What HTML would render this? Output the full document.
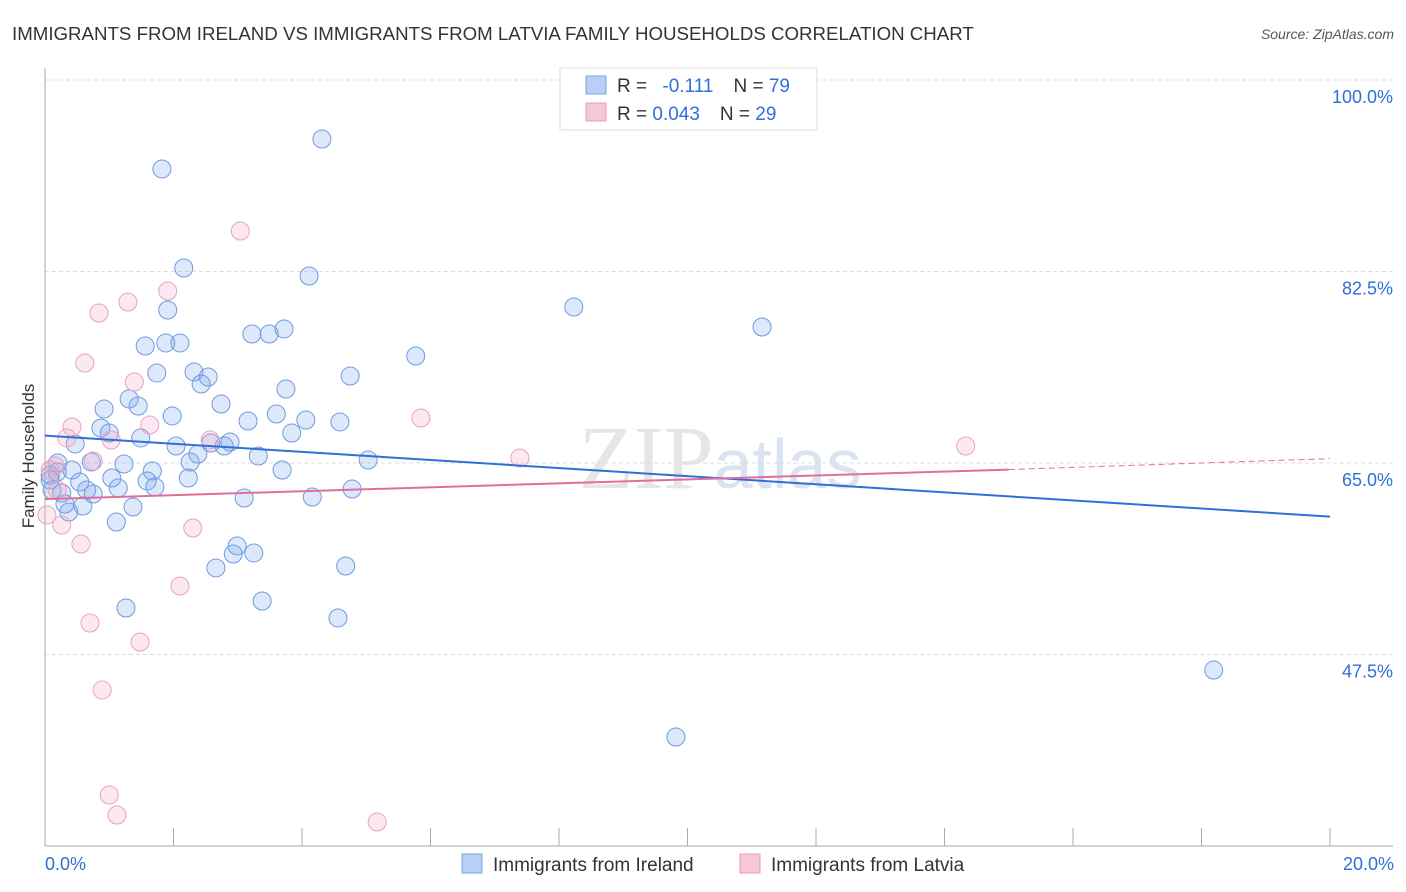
<!DOCTYPE html>
<html><head><meta charset="utf-8"><style>
body{margin:0;background:#fff;font-family:"Liberation Sans",sans-serif;}
svg{display:block}
</style></head><body>
<svg id="chart" width="1406" height="892">
<text x="12" y="40" font-size="18.7" fill="#333">IMMIGRANTS FROM IRELAND VS IMMIGRANTS FROM LATVIA FAMILY HOUSEHOLDS CORRELATION CHART</text>
<text x="1394" y="39" font-size="14" fill="#555" font-style="italic" text-anchor="end">Source: ZipAtlas.com</text>
<text x="720" y="488" font-size="90" fill="#e6e6e6" text-anchor="middle" font-family="Liberation Serif,serif">ZIP<tspan fill="#d9e3f2" font-family="Liberation Sans,sans-serif" font-size="70">atlas</tspan></text>
<g id="grid"></g>
<line x1="45" y1="68" x2="45" y2="846" stroke="#aaa"/>
<line x1="45" y1="846" x2="1393" y2="846" stroke="#aaa"/>
<text transform="translate(34,456) rotate(-90)" font-size="17" fill="#333" text-anchor="middle">Family Households</text>
<g id="marks"></g>
<g id="lines"></g>
<g>
<rect x="560" y="68" width="257" height="62" fill="#fff" stroke="#ddd"/>
<rect x="586" y="76" width="20" height="18" fill="#b8d0f5" stroke="#7aa3e0"/>
<rect x="586" y="103" width="20" height="18" fill="#f9c8d6" stroke="#ea9ab2"/>
<text x="617" y="92" font-size="19" fill="#333">R = <tspan fill="#2f6fd6" dx="10">-0.111</tspan><tspan fill="#333" dx="20">N = </tspan><tspan fill="#2f6fd6">79</tspan></text>
<text x="617" y="120" font-size="19" fill="#333">R = <tspan fill="#2f6fd6">0.043</tspan><tspan fill="#333" dx="20">N = </tspan><tspan fill="#2f6fd6">29</tspan></text>
</g>
<g>
<rect x="462" y="854" width="20" height="19" fill="#b8d0f5" stroke="#7aa3e0"/>
<text x="493" y="871" font-size="19" fill="#333">Immigrants from Ireland</text>
<rect x="740" y="854" width="20" height="19" fill="#f9c8d6" stroke="#ea9ab2"/>
<text x="771" y="871" font-size="19" fill="#333">Immigrants from Latvia</text>
</g>
<text x="45" y="870" font-size="18" fill="#2f6fd6">0.0%</text>
<text x="1394" y="870" font-size="18" fill="#2f6fd6" text-anchor="end">20.0%</text>
</svg>
<script>
const yTicks=[100,82.5,65,47.5];
const xTicks=[0,2,4,6,8,10,12,14,16,18,20];
const irelandPx=[[322,139],[162,169],[184,268],[309,276],[574,307],[762,327],[168,310],[145,346],[166,343],[180,343],[252,334],[269,334],[284,329],[416,356],[157,373],[194,372],[208,377],[201,384],[286,389],[350,376],[129,399],[104,409],[138,406],[172,416],[221,404],[276,414],[248,421],[306,420],[340,422],[101,428],[109,433],[141,438],[176,446],[211,443],[224,446],[230,442],[292,433],[368,460],[75,444],[58,463],[91,462],[124,464],[152,471],[198,454],[190,462],[258,456],[282,470],[72,470],[80,482],[112,478],[147,481],[155,487],[188,478],[118,488],[87,490],[93,494],[62,493],[52,490],[50,480],[57,472],[65,504],[83,506],[69,512],[133,507],[244,498],[312,497],[352,489],[116,522],[237,546],[233,554],[254,553],[216,568],[346,566],[126,608],[262,601],[338,618],[1214,670],[676,737],[50,475]];
const latviaPx=[[240,231],[168,291],[128,302],[99,313],[85,363],[134,382],[421,418],[150,425],[72,427],[67,438],[111,440],[210,440],[93,461],[520,458],[966,446],[55,466],[50,470],[47,515],[62,525],[193,528],[81,544],[180,586],[90,623],[140,642],[102,690],[109,795],[117,815],[377,822],[57,490]];
const toX=p=>+((p-45)/64.25).toFixed(2), toY=p=>+(100-(p-80)/10.943).toFixed(2);
const irelandX=irelandPx.map(p=>toX(p[0])), irelandY=irelandPx.map(p=>toY(p[1]));
const latviaX=latviaPx.map(p=>toX(p[0])), latviaY=latviaPx.map(p=>toY(p[1]));
const blueLine=[[0,67.5],[20,60.1]];
const pinkLine=[[0,61.7],[15,64.4],[20,65.4]];
const NS="http://www.w3.org/2000/svg";
const sx=v=>45+v*64.25, sy=v=>80+(100-v)*10.943;
function mk(t,a,parent){const e=document.createElementNS(NS,t);for(const k in a)e.setAttribute(k,a[k]);parent.appendChild(e);return e;}
const grid=document.getElementById('grid');
yTicks.forEach(t=>{
 const l=mk('line',{x1:45,x2:1393,y1:sy(t),y2:sy(t),stroke:'#ddd','stroke-dasharray':'4,3'},grid);
 
 
 const tx=mk('text',{x:1393,y:sy(t)+23,'font-size':18,fill:'#2f6fd6','text-anchor':'end'},grid);
 tx.textContent=t.toFixed(1)+'%';
 
 
});
xTicks.forEach(t=>{
 const l=mk('line',{x1:sx(t),x2:sx(t),y1:828,y2:846,stroke:'#aaa'},grid);
 
 
});
const marks=document.getElementById('marks');
irelandX.forEach((x,i)=>{
 const c=mk('circle',{cx:sx(x),cy:sy(irelandY[i]),r:9,fill:'rgba(120,165,235,0.25)',stroke:'#6e9be0','stroke-width':1},marks);
 
 
});
latviaX.forEach((x,i)=>{
 const c=mk('circle',{cx:sx(x),cy:sy(latviaY[i]),r:9,fill:'rgba(245,165,195,0.25)',stroke:'#eba2bb','stroke-width':1},marks);
 
 
});
const lines=document.getElementById('lines');
const b=mk('line',{x1:sx(blueLine[0][0]),y1:sy(blueLine[0][1]),x2:sx(blueLine[1][0]),y2:sy(blueLine[1][1]),stroke:'#2f6fd6','stroke-width':2},lines);


const p1=mk('line',{x1:sx(pinkLine[0][0]),y1:sy(pinkLine[0][1]),x2:sx(pinkLine[1][0]),y2:sy(pinkLine[1][1]),stroke:'#e0709a','stroke-width':2},lines);


const p2=mk('line',{x1:sx(pinkLine[1][0]),y1:sy(pinkLine[1][1]),x2:sx(pinkLine[2][0]),y2:sy(pinkLine[2][1]),stroke:'#e0709a','stroke-width':1,'stroke-dasharray':'6,4'},lines);


</script>
</body></html>
